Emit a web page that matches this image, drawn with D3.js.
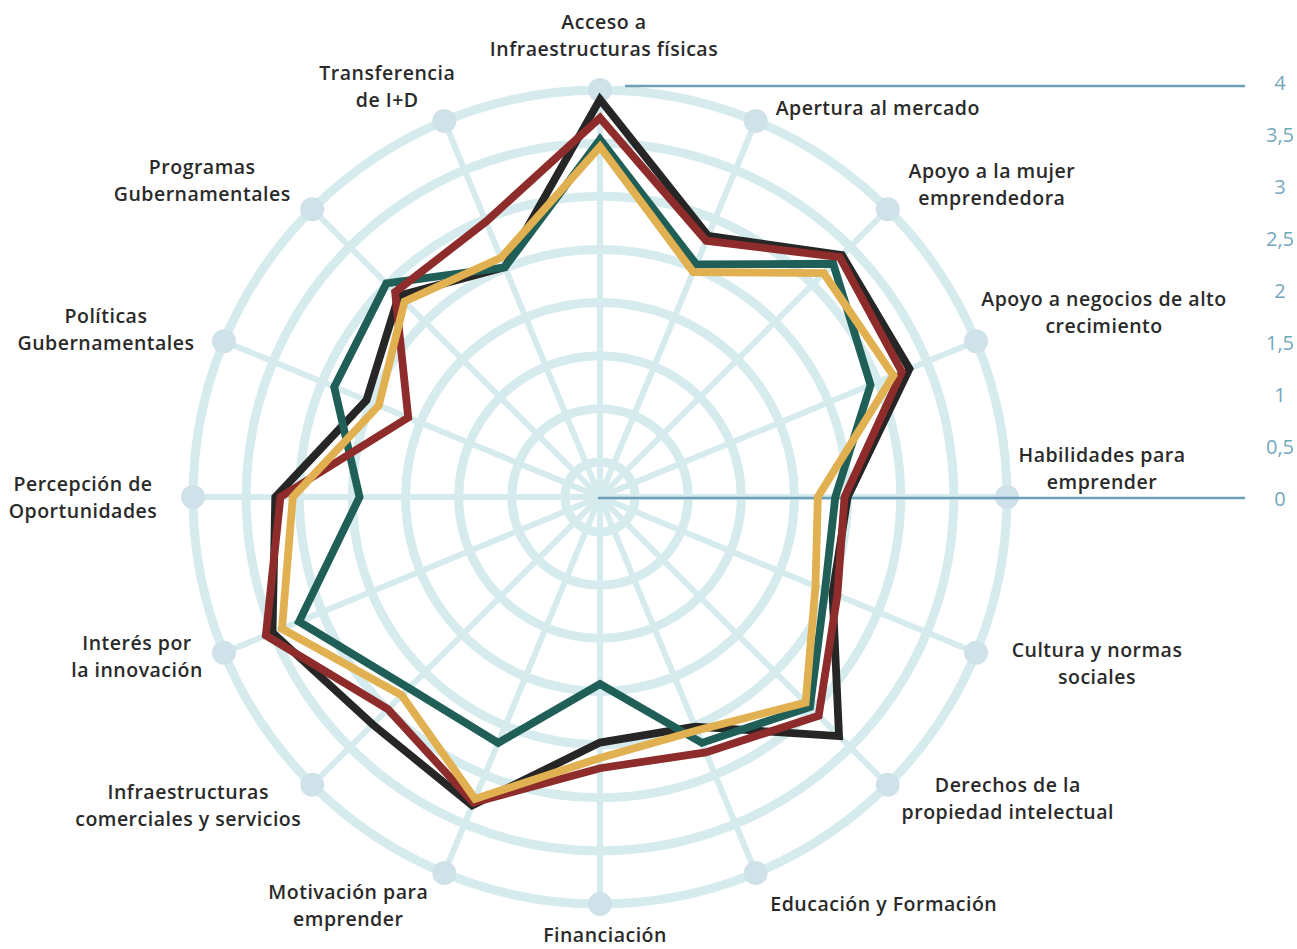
<!DOCTYPE html>
<html><head><meta charset="utf-8">
<script src="https://cdn.jsdelivr.net/npm/d3@7"></script>
<style>
html,body{margin:0;padding:0;background:#fff;}
svg{display:block;}
</style></head>
<body>
<svg id="chart" width="1297" height="949"></svg>
<script>
// ---------- DATA ----------
const categories = [
  ["Acceso a","Infraestructuras físicas"],
  ["Apertura al mercado"],
  ["Apoyo a la mujer","emprendedora"],
  ["Apoyo a negocios de alto","crecimiento"],
  ["Habilidades para","emprender"],
  ["Cultura y normas","sociales"],
  ["Derechos de la","propiedad intelectual"],
  ["Educación y Formación"],
  ["Financiación"],
  ["Motivación para","emprender"],
  ["Infraestructuras","comerciales y servicios"],
  ["Interés por","la innovación"],
  ["Percepción de","Oportunidades"],
  ["Políticas","Gubernamentales"],
  ["Programas","Gubernamentales"],
  ["Transferencia","de I+D"]
];
const seriesBlack = [3.87, 2.75, 3.33, 3.26, 2.41, 2.45, 3.29, 2.42, 2.39, 3.25, 3.13, 3.45, 3.16, 2.46, 2.77, 2.42];
const seriesTeal  = [3.48, 2.45, 3.21, 2.85, 2.29, 2.37, 2.89, 2.59, 1.82, 2.59, 2.63, 3.17, 2.34, 2.80, 2.94, 2.42];
const seriesRed   = [3.69, 2.70, 3.30, 3.18, 2.38, 2.50, 3.01, 2.69, 2.64, 3.22, 2.92, 3.52, 3.11, 2.02, 2.82, 2.90];
const seriesGold  = [3.41, 2.37, 3.08, 3.09, 2.12, 2.27, 2.83, 2.46, 2.54, 3.18, 2.73, 3.35, 2.99, 2.33, 2.69, 2.52];
const tickValues = [0, 0.5, 1, 1.5, 2, 2.5, 3, 3.5, 4];
const tickLabels = ["0","0,5","1","1,5","2","2,5","3","3,5","4"];

// ---------- LAYOUT ----------
const cx = 600, cy = 497;
const rScale = d3.scaleLinear().domain([0, 4]).range([0, 411]);
const dotR = 407;
const ringScale = d3.scaleLinear().domain([0, 7]).range([35, 407]);
const ringIdx = d3.range(8);
// label offsets from the end dot (dx, dy of text block centre)
const labelOffsets = [
  [4,-55],[122,-13],[104,-25],[128,-29],[95,-29],[121,10],[120,13],[128,30],
  [5,30],[-96,32],[-124,20],[-87,3],[-110,0],[-118,-12],[-110,-29],[-57,-35]
];
const series = [
  {values: seriesBlack, color: "#262626"},
  {values: seriesTeal,  color: "#1f5f58"},
  {values: seriesRed,   color: "#8d2c2a"},
  {values: seriesGold,  color: "#e1b050"}
];

const svg = d3.select("#chart");
const g = svg.append("g").attr("transform", `translate(${cx},${cy})`);
const n = categories.length;
const ang = i => i * 2 * Math.PI / n;
const px = (i, r) => r * Math.sin(ang(i));
const py = (i, r) => -r * Math.cos(ang(i));

// rings
g.selectAll("circle.ring").data(ringIdx).join("circle")
  .attr("class","ring").attr("r", d => ringScale(d))
  .attr("fill","none").attr("stroke","#d5ebed").attr("stroke-width", 9);

// spokes
g.selectAll("line.spoke").data(categories).join("line")
  .attr("x1",0).attr("y1",0)
  .attr("x2",(d,i)=>px(i,dotR)).attr("y2",(d,i)=>py(i,dotR))
  .attr("stroke","#d5ebed").attr("stroke-width",6);

// dots
g.selectAll("circle.dot").data(categories).join("circle")
  .attr("class","dot").attr("cx",(d,i)=>px(i,dotR)).attr("cy",(d,i)=>py(i,dotR))
  .attr("r",12).attr("fill","#d0e2e9");

// right-hand scale lines
g.append("line").attr("x1",25).attr("x2",645).attr("y1",-rScale(4)).attr("y2",-rScale(4))
  .attr("stroke","#6e9fb7").attr("stroke-width",2.5);
g.append("line").attr("x1",-2).attr("x2",645).attr("y1",rScale(0)+1).attr("y2",rScale(0)+1)
  .attr("stroke","#6e9fb7").attr("stroke-width",2.5);

// tick labels
const tickY = d3.scaleLinear().domain([0,4]).range([1, -415]);
g.selectAll("text.tick").data(tickValues).join("text")
  .attr("class","tick").attr("x",680).attr("y",d=>tickY(d))
  .attr("text-anchor","middle").attr("dominant-baseline","central")
  .attr("font-family","'Open Sans', sans-serif").attr("font-size",20).attr("font-weight",500)
  .attr("fill","#74a7bd").text((d,i)=>tickLabels[i]);

// series
const line = d3.lineRadial().angle((d,i)=>ang(i)).radius(d=>rScale(d)).curve(d3.curveLinearClosed);
g.selectAll("path.series").data(series).join("path")
  .attr("class","series").attr("d", d=>line(d.values))
  .attr("fill","none").attr("stroke",d=>d.color).attr("stroke-width",7.8)
  .attr("stroke-linejoin","miter").attr("stroke-miterlimit",10);

// category labels
const lab = g.selectAll("g.lab").data(categories).join("g").attr("class","lab")
  .attr("transform",(d,i)=>`translate(${px(i,dotR)+labelOffsets[i][0]},${py(i,dotR)+labelOffsets[i][1]})`);
lab.each(function(lines){
  const sel = d3.select(this);
  const lh = 26.5;
  lines.forEach((t,k)=>{
    sel.append("text").attr("x",0).attr("y",(k-(lines.length-1)/2)*lh)
      .attr("text-anchor","middle").attr("dominant-baseline","central")
      .attr("font-family","'Open Sans', sans-serif").attr("font-size",19.5).attr("font-weight",600)
      .attr("letter-spacing",0.5)
      .attr("fill","#2a2a2a").text(t);
  });
});
</script>
</body></html>
